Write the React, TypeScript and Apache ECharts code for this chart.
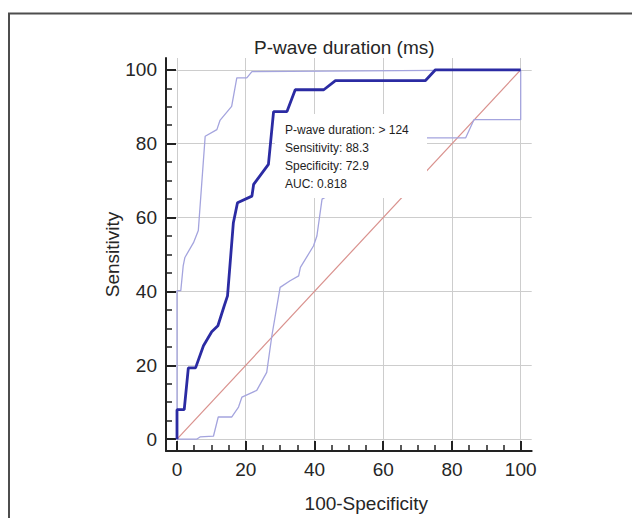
import React, { useEffect, useRef } from 'react';
import * as echarts from 'echarts';

// ---- data ----
const chartTitle = 'P-wave duration (ms)';
const xAxisTitle = '100-Specificity';
const yAxisTitle = 'Sensitivity';

const majorTicks = [0, 20, 40, 60, 80, 100];
const minorTicks = [5, 10, 15, 25, 30, 35, 45, 50, 55, 65, 70, 75, 85, 90, 95];

// ROC curve
const rocX = [0, 0, 2.1, 3.3, 5.4, 7.7, 10.1, 11.9, 13.7, 14.7, 16.4, 17.6, 21.8, 22.3, 26.6, 28.1, 32.0, 34.4, 42.7, 46.1, 72.3, 75.2, 100];
const rocY = [0, 8, 8, 19.3, 19.3, 25.3, 29.1, 30.7, 36, 38.8, 58.6, 64, 65.8, 69, 74.4, 88.7, 88.7, 94.6, 94.6, 97.1, 97.1, 100, 100];

// upper confidence bound
const upX = [0, 0, 1.1, 1.8, 2.3, 4.8, 6.2, 8.2, 11.6, 12.5, 15.9, 17.4, 20.3, 21.8, 100];
const upY = [0, 40.2, 40.2, 46.9, 49.2, 53.2, 56.5, 82.0, 83.8, 86.3, 90.1, 97.8, 97.8, 99.5, 100];

// lower confidence bound
const loX = [0, 5.7, 6.7, 10.6, 12.0, 15.9, 17.9, 18.9, 23.2, 26.1, 27.6, 30.0, 32.9, 35.4, 35.9, 39.7, 40.7, 42.2, 72.8, 84.0, 86.4, 100, 100];
const loY = [0, 0, 0.6, 0.8, 6.0, 6.0, 8.7, 11.4, 13.2, 18.1, 28.0, 41.1, 42.9, 44.2, 46.5, 52.3, 55.0, 65.0, 81.6, 81.6, 86.5, 86.5, 100];

// reference diagonal
const diagX = [0, 100];
const diagY = [0, 100];

// annotation
const criterion = '> 124';
const sensitivity = 88.3;
const specificity = 72.9;
const auc = 0.818;

const zip = (xs: number[], ys: number[]) => xs.map((x, i) => [x, ys[i]]);

const FONT = '"Liberation Sans", Arial, sans-serif';
const TEXT = '#262626';
const AXMIN = -3.2;
const AXMAX = 103.2;

function makeAxes(dim: 'x' | 'y') {
  const pos = dim === 'x' ? 'bottom' : 'left';
  const main: any = {
    type: 'value',
    position: pos,
    min: AXMIN,
    max: AXMAX,
    name: dim === 'x' ? xAxisTitle : yAxisTitle,
    nameLocation: 'middle',
    nameMoveOverlap: false,
    nameGap: dim === 'x' ? 43 : 44,
    nameTextStyle: {
      fontFamily: FONT,
      fontSize: 19,
      color: TEXT,
      padding: dim === 'x' ? [0, 0, 0, 35] : 0,
    },
    axisLine: { show: true, onZero: false, lineStyle: { color: '#222', width: 2 } },
    axisTick: { show: true, inside: true, length: 10, customValues: majorTicks, lineStyle: { color: '#222', width: 2 } },
    axisLabel: { show: true, customValues: majorTicks, fontFamily: FONT, fontSize: 19, color: TEXT, margin: 9 },
    splitLine: { show: true, lineStyle: { color: '#cdcdcd', width: 1 } },
  };
  const minor: any = {
    type: 'value',
    position: pos,
    min: AXMIN,
    max: AXMAX,
    axisLine: { show: false, onZero: false },
    axisTick: { show: true, inside: true, length: 6, customValues: minorTicks, lineStyle: { color: '#222', width: 1.5 } },
    axisLabel: { show: false },
    splitLine: { show: false },
  };
  return [main, minor];
}

const option: any = {
  animation: false,
  backgroundColor: '#ffffff',
  title: {
    text: chartTitle,
    left: 254,
    top: 38,
    padding: 0,
    textStyle: { fontFamily: FONT, fontSize: 19, fontWeight: 'normal', color: TEXT },
  },
  grid: { left: 166, right: 100.3, top: 58, bottom: 65.3, containLabel: false },
  xAxis: makeAxes('x'),
  yAxis: makeAxes('y'),
  series: [
    {
      type: 'line',
      name: 'Reference',
      data: zip(diagX, diagY),
      symbol: 'none',
      lineStyle: { color: '#d9918d', width: 1.2 },
      z: 2,
    },
    {
      type: 'line',
      name: 'Upper 95% CI',
      data: zip(upX, upY),
      symbol: 'none',
      lineStyle: { color: '#a4a4de', width: 1.3 },
      z: 3,
    },
    {
      type: 'line',
      name: 'Lower 95% CI',
      data: zip(loX, loY),
      symbol: 'none',
      lineStyle: { color: '#a4a4de', width: 1.3 },
      z: 3,
    },
    {
      type: 'line',
      name: 'ROC',
      data: zip(rocX, rocY),
      symbol: 'none',
      lineStyle: { color: '#2b2ba3', width: 2.8 },
      z: 4,
    },
  ],
  graphic: [
    {
      type: 'rect',
      silent: true,
      z: 1,
      shape: { x: 9, y: 13.5, width: 700, height: 600 },
      style: { fill: 'none', stroke: '#4d4d4d', lineWidth: 2 },
    },
    {
      type: 'rect',
      silent: true,
      z: 100,
      shape: { x: 275, y: 114, width: 152, height: 84 },
      style: { fill: '#ffffff' },
    },
    {
      type: 'text',
      silent: true,
      z: 101,
      x: 285,
      y: 121,
      style: {
        text: [
          `P-wave duration: ${criterion}`,
          `Sensitivity: ${sensitivity}`,
          `Specificity: ${specificity}`,
          `AUC: ${auc}`,
        ].join('\n'),
        font: `12px ${FONT}`,
        fill: '#1e1e1e',
        lineHeight: 18,
      },
    },
  ],
};

export default function App() {
  const ref = useRef<HTMLDivElement>(null);
  useEffect(() => {
    if (!ref.current) return;
    const chart = echarts.init(ref.current, null, { renderer: 'svg' });
    chart.setOption(option);
    return () => chart.dispose();
  }, []);
  return (
    <div
      ref={ref}
      style={{ position: 'fixed', left: 0, top: 0, width: 632, height: 518, background: '#fff' }}
    />
  );
}
